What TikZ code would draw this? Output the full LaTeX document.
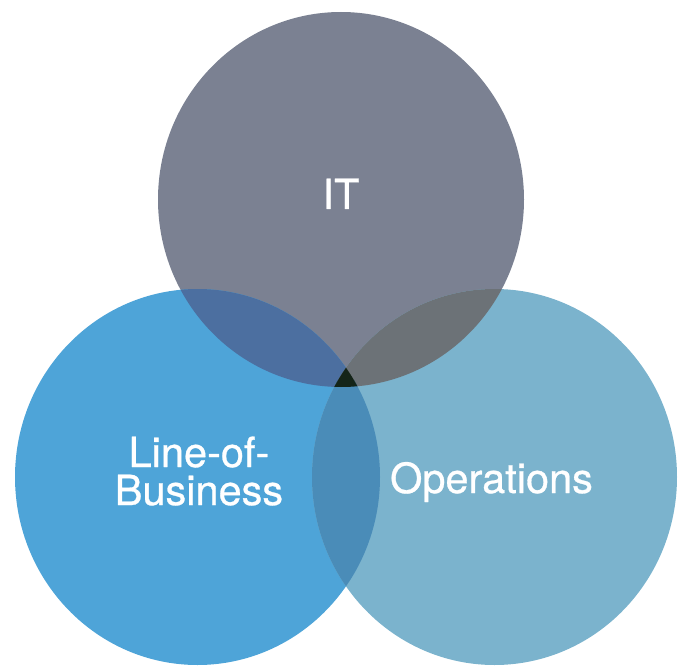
\documentclass[tikz,border=0pt]{standalone}
\usepackage{fontspec}
\setmainfont{TeX Gyre Heros}
\newfontfamily\lblfont{TeX Gyre Heros}[FakeBold=0.7]
\definecolor{itc}{HTML}{7B8192}
\definecolor{lobc}{HTML}{4EA4D8}
\definecolor{opc}{HTML}{7BB3CD}
\definecolor{itlob}{HTML}{4C6FA0}
\definecolor{itop}{HTML}{6C7277}
\definecolor{lobop}{HTML}{4A8CB8}
\definecolor{allc}{HTML}{142418}
\begin{document}
\begin{tikzpicture}[x=1pt,y=-1pt,
  lbl/.style={text=white,font=\lblfont\fontsize{41.5}{38}\selectfont,anchor=base,inner sep=0pt,align=center}]
\useasboundingbox (0,0) rectangle (686,666);
\fill[itc] (341,199.5) ellipse [x radius=183,y radius=187.5];
\fill[lobc] (197.5,477) ellipse [x radius=182.5,y radius=188];
\fill[opc] (494.5,477) ellipse [x radius=182.5,y radius=188];
\begin{scope}
  \clip (341,199.5) ellipse [x radius=183,y radius=187.5];
  \fill[itlob] (197.5,477) ellipse [x radius=182.5,y radius=188];
  \fill[itop] (494.5,477) ellipse [x radius=182.5,y radius=188];
  \clip (197.5,477) ellipse [x radius=182.5,y radius=188];
  \fill[allc] (494.5,477) ellipse [x radius=182.5,y radius=188];
\end{scope}
\begin{scope}
  \clip (197.5,477) ellipse [x radius=182.5,y radius=188];
  \clip (0,380) rectangle (686,666);
  \begin{scope}
    \clip (494.5,477) ellipse [x radius=182.5,y radius=188];
    \fill[lobop] (0,300) rectangle (686,666);
    \fill[allc] (341,199.5) ellipse [x radius=183,y radius=187.5];
  \end{scope}
\end{scope}
\node[lbl] (it) at (341,209) {IT};
\node[lbl] (ops) at (491.5,493) {Operations};
\node[lbl] (lob1) at (199,467) {Line-of-};
\node[lbl] (lob2) at (199,505) {Business};
\end{tikzpicture}
\end{document}
